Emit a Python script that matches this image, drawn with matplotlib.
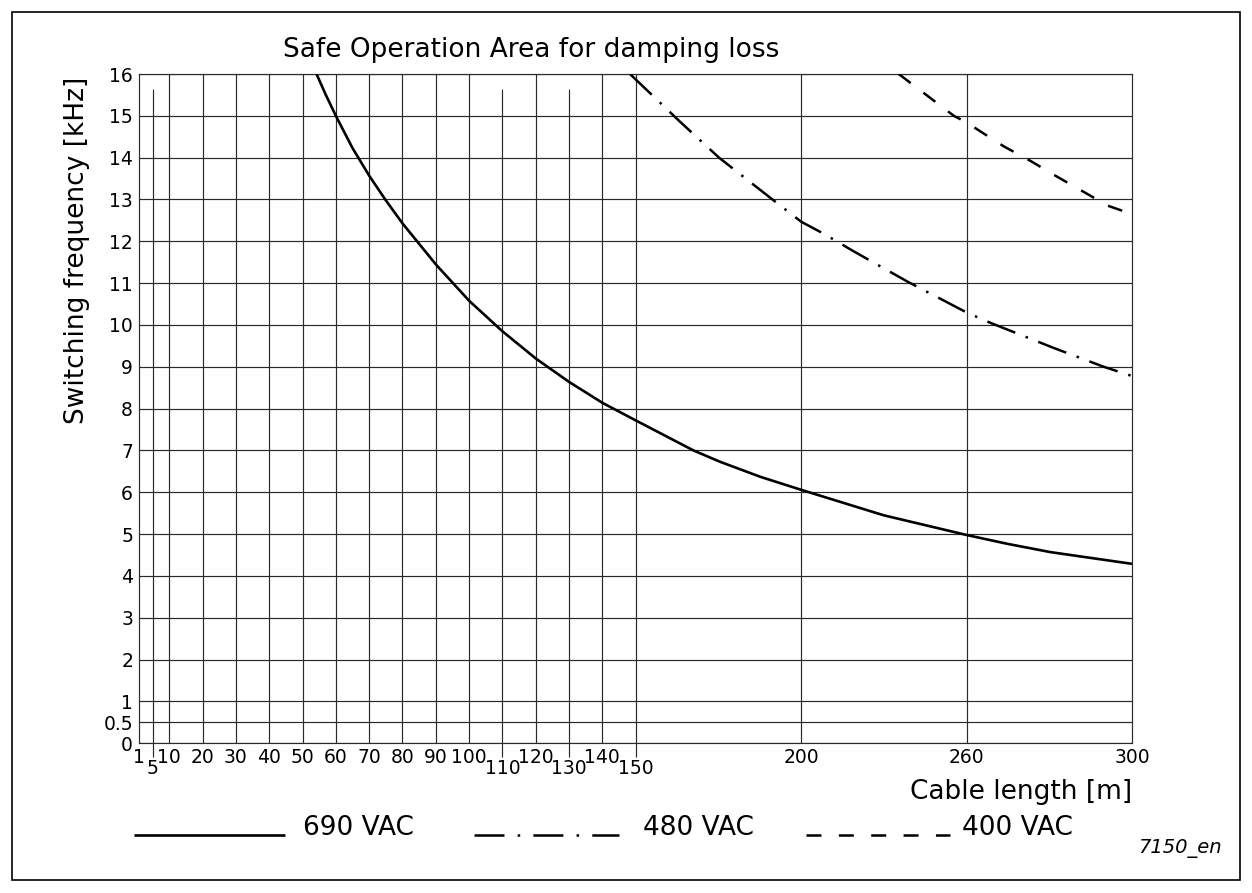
import numpy as np
import matplotlib
matplotlib.use("Agg")
import matplotlib.pyplot as plt
from matplotlib.lines import Line2D
from matplotlib.patches import Rectangle

plt.rcParams['font.family'] = ['DejaVu Sans']
plt.rcParams['lines.scale_dashes'] = False

# ---------------- data ----------------
title = "Safe Operation Area for damping loss"
xlabel = "Cable length [m]"
ylabel = "Switching frequency [kHz]"

# x axis: piecewise scale breakpoints (value -> relative position)
x_breaks = [1, 150, 200, 260, 300]
x_break_pos = [0, 3, 4, 5, 6]

x_ticks_row1 = [1, 10, 20, 30, 40, 50, 60, 70, 80, 90, 100, 120, 140, 200, 260, 300]
x_ticks_row2 = [5, 110, 130, 150]
x_grid_full = [10, 20, 30, 40, 50, 60, 70, 80, 90, 100, 120, 140, 150, 200, 260]
x_grid_short = [5, 110, 130]
short_grid_top = 15.63

y_ticks = [0, 0.5, 1, 2, 3, 4, 5, 6, 7, 8, 9, 10, 11, 12, 13, 14, 15, 16]
y_tick_labels = ["0", "0.5", "1", "2", "3", "4", "5", "6", "7", "8", "9",
                 "10", "11", "12", "13", "14", "15", "16"]

# 690 VAC (solid)
len_690 = [54.2, 57, 60, 65, 70, 75, 80, 90, 100, 110, 120, 130, 140, 150,
           167.5, 175.5, 187.7, 200, 230, 260, 269.8, 280.3, 300]
f_690 = [16.0, 15.5, 15.0, 14.23, 13.57, 12.98, 12.43, 11.45, 10.58, 9.85, 9.2,
         8.64, 8.14, 7.72, 7.0, 6.73, 6.37, 6.06, 5.45, 4.98, 4.77, 4.57, 4.29]

# 480 VAC (dash-dot)
len_480 = [148.3, 163.4, 175.2, 190.7, 200, 208.5, 219.1, 238.5, 260, 265.8,
           281.1, 293.2, 300]
f_480 = [16.0, 14.86, 14.0, 13.04, 12.47, 12.17, 11.76, 11.04, 10.3, 10.05,
         9.45, 9.0, 8.78]

# 400 VAC (dashed)
len_400 = [235.4, 255.4, 260, 269, 275.5, 281.8, 288, 294.2, 300]
f_400 = [16.0, 15.0, 14.84, 14.27, 13.92, 13.55, 13.2, 12.85, 12.65]

legend_labels = ["690 VAC", "480 VAC", "400 VAC"]
note = "7150_en"

# ---------------- figure ----------------
W, H = 1252, 893
fig = plt.figure(figsize=(W / 100, H / 100), dpi=100)
fig.patch.set_facecolor('white')

def fx(px):
    return px / W

def fy(py):
    return 1 - py / H

ax = fig.add_axes([fx(139.3), fy(743.3), (1132 - 139.3) / W, (743.3 - 74) / H])

fwd = lambda x: np.interp(x, x_breaks, x_break_pos)
inv = lambda p: np.interp(p, x_break_pos, x_breaks)
ax.set_xscale('function', functions=(fwd, inv))
ax.set_xlim(1, 300)
ax.set_ylim(0, 16)

grid_lw = 0.85
grid_col = '#2a2a2a'
ax.hlines(y_ticks, 1, 300, color=grid_col, lw=grid_lw, zorder=1)
ax.vlines(x_grid_full, 0, 16, color=grid_col, lw=grid_lw, zorder=1)
ax.vlines(x_grid_short, 0, short_grid_top, color=grid_col, lw=grid_lw, zorder=1)
for s in ax.spines.values():
    s.set_linewidth(grid_lw)
    s.set_color(grid_col)

# ticks
ax.set_xticks(x_ticks_row1)
ax.set_xticklabels([str(v) for v in x_ticks_row1])
ax.set_xticks(x_ticks_row2, minor=True)
ax.set_xticklabels([str(v) for v in x_ticks_row2], minor=True)
ax.tick_params(axis='x', which='major', length=0, pad=3.2, labelsize=13.5)
ax.tick_params(axis='x', which='minor', length=10, width=grid_lw, color=grid_col,
               direction='out', pad=1.5, labelsize=13.5)
ax.set_yticks(y_ticks)
ax.set_yticklabels(y_tick_labels)
ax.tick_params(axis='y', length=0, pad=4.5, labelsize=13.5)

# curves
ax.plot(len_690, f_690, color='black', lw=1.9, solid_capstyle='butt',
        solid_joinstyle='round', zorder=3)
ax.plot(len_480, f_480, color='black', lw=1.8,
        linestyle=(0, (21.6, 8, 1.8, 8)), zorder=3)
ax.plot(len_400, f_400, color='black', lw=1.8,
        linestyle=(0, (10.8, 11.5)), zorder=3)

# texts
fig.text(fx(531.5), fy(57.3), title, ha='center', va='baseline', fontsize=19)
fig.text(fx(77), fy(250), ylabel, ha='center', va='center', rotation=90, fontsize=19)
fig.text(fx(1132), fy(799), xlabel, ha='right', va='baseline', fontsize=19)

# legend (manual, below the plot)
leg_y = fy(835)
styles = [dict(linestyle='-', lw=1.9, solid_capstyle='butt'),
          dict(linestyle=(0, (21.6, 9.5, 1.8, 9.5)), lw=1.8),
          dict(linestyle=(0, (10.8, 12.5)), lw=1.8)]
seg = [(134, 284.5, 302.7), (473.5, 619, 643), (806, 950, 962)]
for (x0, x1, xt), st, lab in zip(seg, styles, legend_labels):
    fig.add_artist(Line2D([fx(x0), fx(x1)], [leg_y, leg_y], color='black',
                          transform=fig.transFigure, **st))
    fig.text(fx(xt), leg_y, lab, ha='left', va='baseline', fontsize=19)

fig.text(fx(1222), fy(853), note, ha='right', va='baseline', fontsize=14,
         style='italic')

# outer frame
fig.add_artist(Rectangle((fx(12), fy(880)), (1240 - 12) / W, (880 - 12) / H,
                         transform=fig.transFigure, fill=False,
                         edgecolor='black', lw=1.2))

fig.savefig("out.png", dpi=100)
